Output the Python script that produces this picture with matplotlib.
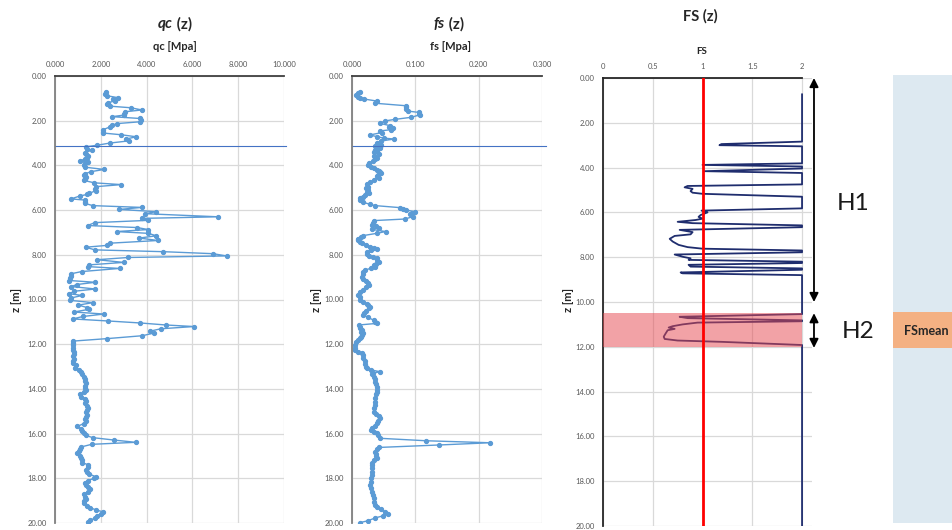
import numpy as np
from matplotlib import pyplot as plt
from matplotlib.patches import Rectangle

plt.rcParams['font.family'] = ['Lato', 'DejaVu Sans']

# cone resistance qc [MPa] vs depth z [m]
qc_z = [0.72, 0.80, 0.88, 0.97, 1.05, 1.12, 1.20, 1.27, 1.35, 1.42, 1.52, 1.60, 1.68, 1.75, 1.82, 1.90, 1.98, 2.05,
        2.13, 2.20, 2.28, 2.40, 2.50, 2.55, 2.63, 2.72, 2.82, 2.90, 3.00, 3.10, 3.17, 3.25, 3.32, 3.43, 3.50, 3.58,
        3.66, 3.72, 3.79, 3.85, 3.91, 4.00, 4.08, 4.18, 4.28, 4.38, 4.45, 4.52, 4.60, 4.67, 4.78, 4.86, 4.95, 5.05,
        5.13, 5.25, 5.30, 5.37, 5.50, 5.55, 5.63, 5.70, 5.80, 5.88, 5.97, 6.07, 6.16, 6.30, 6.37, 6.46, 6.56, 6.69,
        6.78, 6.87, 6.96, 7.04, 7.15, 7.25, 7.36, 7.48, 7.58, 7.66, 7.78, 7.86, 7.95, 8.05, 8.12, 8.22, 8.34, 8.45,
        8.53, 8.61, 8.75, 8.85, 8.95, 9.05, 9.15, 9.23, 9.33, 9.42, 9.53, 9.63, 9.74, 9.82, 9.93, 10.04, 10.14,
        10.25, 10.36, 10.44, 10.56, 10.65, 10.76, 10.87, 10.96, 11.05, 11.14, 11.21, 11.31, 11.42, 11.50, 11.62,
        11.75, 11.86, 11.95, 12.05, 12.15, 12.25, 12.35, 12.45, 12.55, 12.65, 12.75, 12.85, 12.95, 13.05, 13.15,
        13.25, 13.35, 13.45, 13.55, 13.65, 13.75, 13.85, 13.95, 14.05, 14.15, 14.25, 14.35, 14.45, 14.55, 14.65,
        14.75, 14.85, 14.95, 15.05, 15.15, 15.25, 15.35, 15.45, 15.55, 15.68, 15.78, 15.88, 15.98, 16.08, 16.18,
        16.29, 16.39, 16.48, 16.60, 16.70, 16.80, 16.88, 16.98, 17.08, 17.18, 17.30, 17.40, 17.50, 17.62, 17.72,
        17.82, 17.92, 18.00, 18.10, 18.20, 18.30, 18.40, 18.50, 18.60, 18.72, 18.82, 18.92, 19.02, 19.12, 19.22,
        19.32, 19.42, 19.50, 19.58, 19.68, 19.78, 19.88, 19.96]
qc_val = [2.22, 2.20, 2.25, 2.75, 2.55, 2.60, 2.30, 2.25, 2.40, 3.30, 3.80, 3.05, 3.00, 3.00, 2.50, 3.70, 3.75, 3.70,
          2.70, 2.50, 2.40, 2.10, 2.08, 2.08, 2.90, 3.55, 3.10, 3.25, 2.40, 1.82, 1.34, 1.40, 1.60, 1.30, 1.35, 1.45,
          1.40, 1.30, 1.10, 1.45, 1.30, 1.27, 1.30, 2.15, 1.57, 1.30, 1.28, 1.35, 1.30, 1.25, 1.72, 2.90, 1.80, 1.74,
          1.78, 1.50, 1.40, 1.08, 0.70, 1.30, 1.32, 1.31, 1.65, 3.80, 2.80, 4.43, 3.92, 7.13, 3.80, 4.05, 1.74, 1.42,
          3.58, 4.07, 2.69, 4.07, 4.43, 3.68, 4.50, 2.40, 2.26, 1.34, 1.74, 4.72, 6.90, 7.49, 3.20, 1.84, 3.00, 1.50,
          1.46, 2.82, 1.16, 0.70, 0.70, 0.66, 0.62, 1.76, 0.95, 0.72, 1.76, 0.85, 0.62, 1.19, 0.70, 0.67, 1.66,
          1.02, 1.40, 1.48, 0.82, 2.14, 1.22, 0.77, 2.30, 3.72, 4.84, 6.07, 4.62, 4.14, 4.32, 3.82,
          2.28, 0.80, 0.80, 0.79, 0.80, 0.80, 0.82, 0.82, 0.80, 0.85, 0.78, 0.80, 0.90, 0.88, 1.05,
          1.15, 1.20, 1.25, 1.32, 1.30, 1.35, 1.32, 1.30, 1.35, 1.28, 1.09, 1.12, 1.32, 1.35, 1.30,
          1.38, 1.45, 1.40, 1.35, 1.38, 1.35, 1.30, 1.35, 1.25, 0.98, 1.15, 1.20, 1.28, 1.35, 1.64,
          2.59, 3.52, 1.60, 1.13, 1.10, 1.05, 0.97, 1.10, 1.15, 1.20, 1.20, 1.45, 1.42, 1.35, 1.40,
          1.50, 1.77, 1.70, 1.45, 1.30, 1.35, 1.45, 1.52, 1.45, 1.27, 1.30, 1.35, 1.28, 1.25, 1.40,
          1.55, 1.80, 2.10, 2.00, 1.85, 1.74, 1.55, 1.43]

# sleeve friction fs [MPa] vs depth z [m]
fs_z = [0.70, 0.78, 0.85, 0.92, 0.97, 1.03, 1.12, 1.22, 1.33, 1.40, 1.47, 1.57, 1.63, 1.70, 1.74, 1.85, 1.94, 2.01,
        2.12, 2.22, 2.28, 2.34, 2.40, 2.46, 2.53, 2.64, 2.71, 2.78, 2.82, 2.91, 3.01, 3.07, 3.12, 3.18, 3.23, 3.30,
        3.35, 3.42, 3.50, 3.60, 3.66, 3.71, 3.80, 3.90, 4.00, 4.06, 4.13, 4.20, 4.25, 4.30, 4.35, 4.42, 4.46, 4.55,
        4.65, 4.75, 4.85, 4.95, 5.03, 5.10, 5.20, 5.25, 5.32, 5.40, 5.48, 5.55, 5.65, 5.74, 5.80, 5.89, 5.95, 6.00,
        6.07, 6.12, 6.19, 6.29, 6.40, 6.47, 6.56, 6.66, 6.72, 6.78, 6.86, 6.96, 7.04, 7.14, 7.22, 7.30, 7.34, 7.42,
        7.49, 7.56, 7.63, 7.70, 7.74, 7.80, 7.86, 7.95, 8.04, 8.10, 8.16, 8.25, 8.31, 8.40, 8.46, 8.53, 8.60, 8.68,
        8.78, 8.88, 8.98, 9.08, 9.18, 9.26, 9.35, 9.45, 9.57, 9.68, 9.80, 9.90, 10.00, 10.10, 10.20, 10.25, 10.33,
        10.40, 10.50, 10.60, 10.70, 10.80, 10.92, 11.00, 11.07, 11.14, 11.22, 11.29, 11.38, 11.45, 11.52, 11.59,
        11.66, 11.74, 11.82, 11.92, 12.04, 12.15, 12.26, 12.34, 12.41, 12.50, 12.63, 12.75, 12.88, 13.00, 13.08,
        13.15, 13.23, 13.30, 13.35, 13.45, 13.55, 13.68, 13.80, 13.92, 14.05, 14.12, 14.25, 14.40, 14.57, 14.70,
        14.85, 15.02, 15.12, 15.22, 15.32, 15.45, 15.54, 15.65, 15.75, 15.84, 15.92, 15.99, 16.08, 16.21, 16.32,
        16.41, 16.51, 16.62, 16.70, 16.81, 16.90, 17.00, 17.11, 17.20, 17.30, 17.41, 17.55, 17.70, 17.86, 18.00,
        18.15, 18.31, 18.45, 18.60, 18.75, 18.90, 19.05, 19.18, 19.28, 19.38, 19.50, 19.60, 19.68, 19.77, 19.90,
        19.98]
fs_val = [0.013, 0.010, 0.007, 0.009, 0.012, 0.019, 0.039, 0.037, 0.085, 0.086, 0.086, 0.088, 0.106, 0.106, 0.107,
          0.093, 0.068, 0.052, 0.044, 0.060, 0.058, 0.065, 0.062, 0.044, 0.047, 0.028, 0.039, 0.050, 0.067, 0.045,
          0.039, 0.045, 0.037, 0.041, 0.044, 0.036, 0.039, 0.035, 0.042, 0.034, 0.040, 0.037, 0.033, 0.027, 0.026,
          0.030, 0.034, 0.040, 0.042, 0.044, 0.046, 0.041, 0.039, 0.043, 0.035, 0.029, 0.023, 0.026, 0.022, 0.025,
          0.023, 0.027, 0.021, 0.017, 0.013, 0.013, 0.018, 0.028, 0.037, 0.076, 0.080, 0.086, 0.099, 0.095, 0.091,
          0.097, 0.083, 0.034, 0.033, 0.031, 0.038, 0.042, 0.031, 0.053, 0.039, 0.018, 0.014, 0.010, 0.010, 0.013,
          0.016, 0.022, 0.028, 0.034, 0.039, 0.030, 0.023, 0.024, 0.027, 0.033, 0.039, 0.040, 0.042, 0.038, 0.035,
          0.037, 0.030, 0.021, 0.018, 0.017, 0.016, 0.018, 0.022, 0.025, 0.027, 0.022, 0.018, 0.013, 0.010, 0.012,
          0.013, 0.017, 0.024, 0.026, 0.028, 0.027, 0.022, 0.019, 0.018, 0.025, 0.034, 0.037, 0.039, 0.011, 0.012,
          0.013, 0.016, 0.014, 0.017, 0.016, 0.014, 0.013, 0.010, 0.007, 0.005, 0.004, 0.004, 0.010, 0.016, 0.017,
          0.018, 0.020, 0.021, 0.022, 0.023, 0.030, 0.044, 0.033, 0.031, 0.034, 0.036, 0.037, 0.038, 0.039, 0.040,
          0.039, 0.038, 0.037, 0.037, 0.036, 0.035, 0.034, 0.038, 0.042, 0.044, 0.041, 0.039, 0.036, 0.032, 0.030,
          0.035, 0.039, 0.041, 0.044, 0.117, 0.218, 0.137, 0.042, 0.040, 0.037, 0.038, 0.038, 0.039, 0.035, 0.032,
          0.031, 0.031, 0.031, 0.031, 0.030, 0.030, 0.029, 0.030, 0.031, 0.033, 0.034, 0.035, 0.037, 0.039, 0.045,
          0.052, 0.057, 0.049, 0.037, 0.025, 0.013]

# factor of safety FS vs depth (capped at 2)
FS_z = [0.73, 2.84, 2.95, 3.00, 3.05, 3.81, 3.88, 3.95, 4.04, 4.16, 4.24, 4.75, 4.82, 4.88, 4.95, 5.05, 5.12, 5.17,
        5.30, 5.82, 5.92, 6.00, 6.05, 6.12, 6.20, 6.28, 6.34, 6.42, 6.48, 6.58, 6.66, 6.78, 6.88, 6.98, 7.05, 7.18,
        7.30, 7.45, 7.55, 7.62, 7.70, 7.78, 7.88, 7.98, 8.05, 8.12, 8.20, 8.26, 8.34, 8.42, 8.50, 8.56, 8.68, 8.72,
        8.80, 10.54, 10.66, 10.72, 10.82, 10.86, 10.92, 11.00, 11.08, 11.14, 11.20, 11.26, 11.40, 11.55, 11.65,
        11.72, 11.78, 11.92, 20.0]
FS_val = [2.0, 2.0, 1.19, 1.17, 2.0, 2.0, 1.0, 2.0, 2.0, 1.02, 2.0, 2.0, 0.85, 0.82, 0.90, 0.88, 0.90, 1.0,
          2.0, 2.0, 0.99, 1.05, 1.02, 0.98, 0.96, 1.0, 0.93, 0.75, 0.90, 2.0, 2.0, 0.77, 0.90, 0.88, 0.72, 0.67,
          0.70, 0.76, 0.85, 1.0, 2.0, 2.0, 0.72, 0.80, 0.88, 0.86, 2.0, 2.0, 0.86, 0.88, 2.0, 2.0, 0.78, 0.80,
          2.0, 2.0, 0.77, 0.85, 2.0, 2.0, 0.95, 0.80, 0.70, 0.66, 0.72, 0.65, 0.63, 0.61, 0.62,
          0.75, 1.2, 2.0, 2.0]

z_line = 3.15
H1 = (0.0, 10.0)
H2 = (10.5, 12.05)
FS_limit = 1.0

W, H = 952, 530
fig = plt.figure(figsize=(W / 100, H / 100), dpi=100)


def px(x, y):
    return x / W, 1 - y / H


def depth_axes(x0, x1, y0, y1, xmax, xticks, xlabels):
    ax = fig.add_axes([x0 / W, 1 - y1 / H, (x1 - x0) / W, (y1 - y0) / H])
    ax.set_xlim(0, xmax)
    ax.set_ylim(20, 0)
    ax.xaxis.tick_top()
    ax.set_xticks(xticks)
    ax.set_xticklabels(xlabels)
    zt = np.arange(0, 21, 2)
    ax.set_yticks(zt)
    ax.set_yticklabels(['%.2f' % t for t in zt])
    ax.tick_params(length=0, labelsize=5.5, colors='#595959', pad=6)
    ax.grid(color='#d9d9d9', lw=0.9)
    ax.set_axisbelow(True)
    ax.spines['right'].set_visible(False)
    ax.spines['bottom'].set_visible(False)
    ax.spines['left'].set_color('#808080')
    ax.spines['top'].set_color('#404040')
    ax.spines['left'].set_linewidth(1.3)
    ax.spines['top'].set_linewidth(1.3)
    return ax


def title(x, y, italic, rest, size):
    fig.text(*px(x, y), italic, fontsize=size, fontweight='bold', fontstyle='italic',
             ha='right', va='center', color='#262626')
    fig.text(*px(x, y), rest, fontsize=size, fontweight='bold', ha='left', va='center', color='#262626')


def label(x, y, s, size=8, rot=0):
    fig.text(*px(x, y), s, fontsize=size, fontweight='bold', rotation=rot,
             ha='center', va='center', color='#262626')


# qc panel
ax1 = depth_axes(55, 284, 76, 523, 10, np.arange(0, 10.1, 2), ['%.3f' % t for t in np.arange(0, 10.1, 2)])
ax1.plot(qc_val, qc_z, color='#5b9bd5', lw=1, marker='o', ms=2.8)
ax1.axhline(z_line, xmax=1.01, color='#4472c4', lw=0.8, clip_on=False)
title(173, 24, 'qc', ' (z)', 11)
label(175, 47, 'qc [Mpa]')
label(17, 300, 'z [m]', rot=90)

# fs panel
ax2 = depth_axes(352, 542, 76, 523, 0.3, [0, 0.1, 0.2, 0.3], ['0.000', '0.100', '0.200', '0.300'])
ax2.plot(fs_val, fs_z, color='#5b9bd5', lw=1, marker='o', ms=2.8)
ax2.axhline(z_line, xmax=1.02, color='#4472c4', lw=0.8, clip_on=False)
title(445, 24, 'fs', ' (z)', 11)
label(450, 47, 'fs [Mpa]')
label(316, 300, 'z [m]', rot=90)

# FS panel
ax3 = depth_axes(603, 812, 78, 526, 2.1, [0, 0.5, 1, 1.5, 2], ['0', '0.5', '1', '1.5', '2'])
ax3.spines['top'].set_bounds(0, 2)
ax3.spines['left'].set_color('#262626')
ax3.spines['top'].set_color('#262626')
ax3.plot(FS_val, FS_z, color='#1f2d6e', lw=1.3, zorder=2)
ax3.axhspan(H2[0], 12.0, xmin=0, xmax=2 / 2.1, color='#e6474f', alpha=0.5, lw=0, zorder=3)
ax3.axvline(FS_limit, color='#ff0000', lw=2, zorder=4)
label(700, 16, 'FS (z)', size=10.5)
label(702, 51, 'FS', size=7)
label(568, 300, 'z [m]', rot=90)

for top, bottom in [H1, H2]:
    ax3.annotate('', xy=(2.12, top), xytext=(2.12, bottom), annotation_clip=False,
                 arrowprops=dict(arrowstyle='<|-|>', color='black', lw=1.3, shrinkA=0, shrinkB=0, mutation_scale=13))
fig.text(*px(853, 203), 'H1', fontsize=17.5, ha='center', va='center', color='#1a1a1a')
fig.text(*px(858, 332), 'H2', fontsize=17.5, ha='center', va='center', color='#1a1a1a')

# side panel
fig.patches.append(Rectangle(px(893, 523), 60 / W, 448 / H, transform=fig.transFigure,
                             facecolor='#dde9f1', edgecolor='none', zorder=0))
fig.patches.append(Rectangle(px(893, 348), 60 / W, 36 / H, transform=fig.transFigure,
                             facecolor='#f4b183', edgecolor='none', zorder=1))
fig.text(*px(904, 331), 'FSmean', fontsize=9, fontweight='bold', ha='left', va='center', color='#262626')

plt.savefig('out.png', dpi=100)
